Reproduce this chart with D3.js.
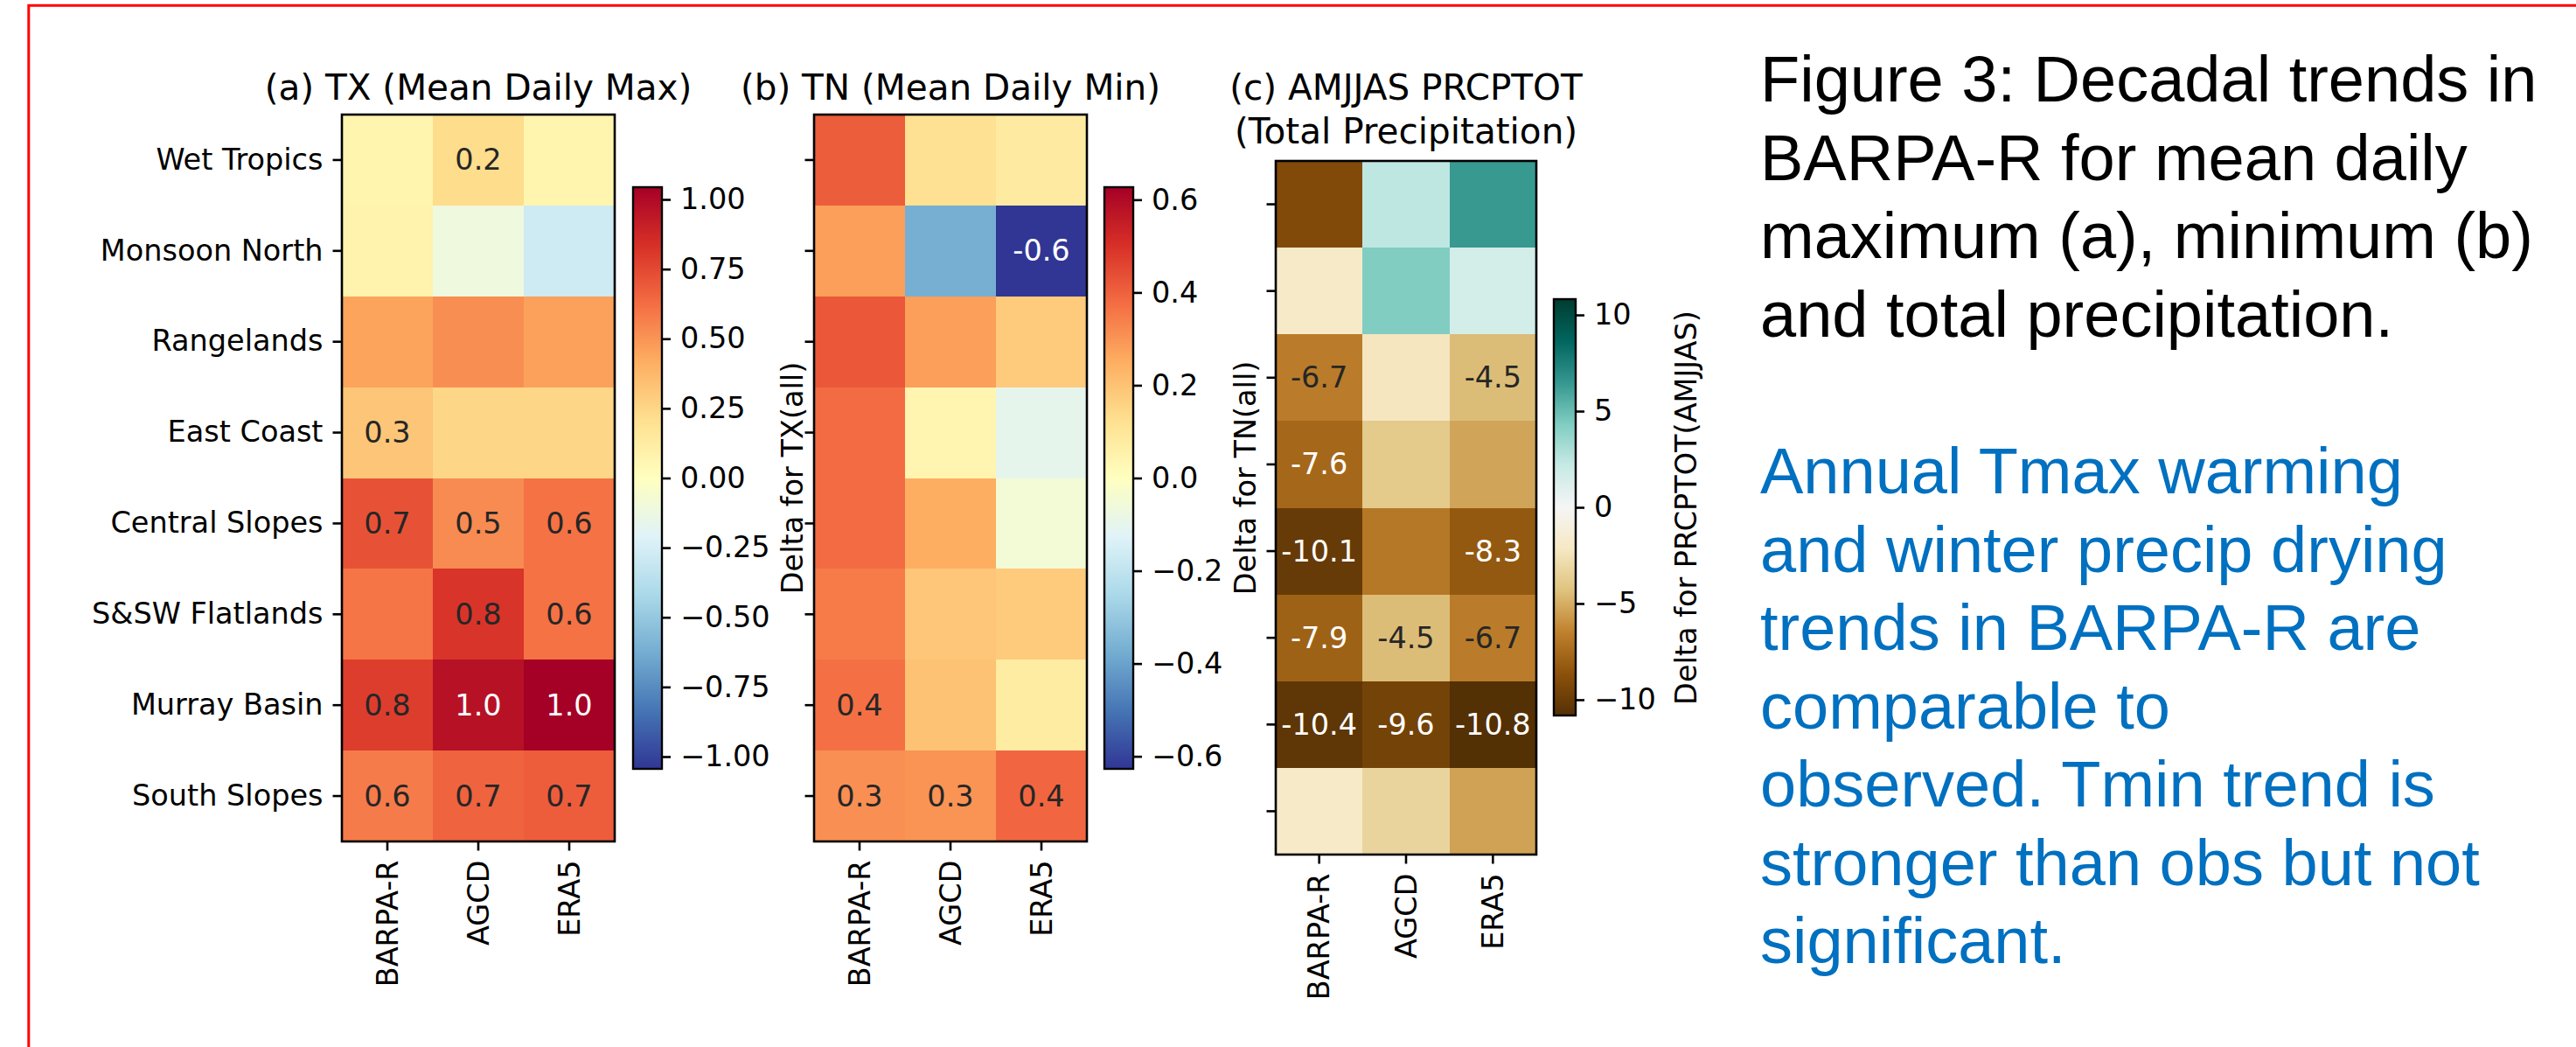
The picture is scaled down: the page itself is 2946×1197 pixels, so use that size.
<!DOCTYPE html>
<html>
<head>
<meta charset="utf-8">
<script src="https://cdn.jsdelivr.net/npm/d3@7"></script>
<style>
html, body { margin: 0; padding: 0; background: #fff; }
svg { display: block; }
</style>
</head>
<body>
<svg id="chart" width="2946" height="1197"></svg>
<script>
// --- data ---
const regions = ['Wet Tropics', 'Monsoon North', 'Rangelands', 'East Coast', 'Central Slopes', 'S&SW Flatlands', 'Murray Basin', 'South Slopes']
const datasets = ['BARPA-R', 'AGCD', 'ERA5']

// rows = regions, cols = datasets
const txTrend = [
    [0.07, 0.22, 0.07],
    [0.08, -0.11, -0.28],
    [0.45, 0.52, 0.46],
    [0.32, 0.25, 0.25],
    [0.72, 0.53, 0.61],
    [0.60, 0.82, 0.61],
    [0.79, 0.97, 1.044],
    [0.58, 0.66, 0.68]
]
// 1 = value printed in the cell
const txSig = [[0, 1, 0], [0, 0, 0], [0, 0, 0], [1, 0, 0], [1, 1, 1], [0, 1, 1], [1, 1, 1], [1, 1, 1]]

const tnTrend = [
    [0.41, 0.12, 0.08],
    [0.28, -0.37, -0.627],
    [0.42, 0.28, 0.18],
    [0.38, 0.04, -0.10],
    [0.38, 0.25, -0.05],
    [0.35, 0.19, 0.18],
    [0.37, 0.20, 0.075],
    [0.31, 0.30, 0.39]
]
const tnSig = [[0, 0, 0], [0, 0, 1], [0, 0, 0], [0, 0, 0], [0, 0, 0], [0, 0, 0], [1, 0, 0], [1, 1, 1]]

const prTrend = [
    [-9.1, 2.4, 6.4],
    [-1.9, 4.3, 1.6],
    [-6.7, -2.3, -4.5],
    [-7.6, -3.9, -5.3],
    [-10.1, -6.9, -8.3],
    [-7.9, -4.5, -6.7],
    [-10.4, -9.6, -10.82],
    [-1.9, -3.3, -5.4]
]
const prSig = [[0, 0, 0], [0, 0, 0], [1, 0, 1], [1, 0, 0], [1, 0, 1], [1, 1, 1], [1, 1, 1], [0, 0, 0]]

const txTicks = [-1, -0.75, -0.5, -0.25, 0, 0.25, 0.5, 0.75, 1]
const tnTicks = [-0.6, -0.4, -0.2, 0, 0.2, 0.4, 0.6]
const prTicks = [-10, -5, 0, 5, 10]

const titles = [['(a) TX (Mean Daily Max)'], ['(b) TN (Mean Daily Min)'], ['(c) AMJJAS PRCPTOT', '(Total Precipitation)']]
const cbarLabels = ['Delta for TX(all)', 'Delta for TN(all)', 'Delta for PRCPTOT(AMJJAS)']

const captionLines = ['Figure 3: Decadal trends in', 'BARPA-R for mean daily', 'maximum (a), minimum (b)', 'and total precipitation.']
const noteLines = ['Annual Tmax warming', 'and winter precip drying', 'trends in BARPA-R are', 'comparable to', 'observed. Tmin trend is', 'stronger than obs but not', 'significant.']

// matplotlib colormaps (11 anchors each)
const rdylbuR = ['#313695', '#4575b4', '#74add1', '#abd9e9', '#e0f3f8', '#ffffbf', '#fee090', '#fdae61', '#f46d43', '#d73027', '#a50026']
const brbg = ['#543005', '#8c510a', '#bf812d', '#dfc27d', '#f6e8c3', '#f5f5f5', '#c7eae5', '#80cdc1', '#35978f', '#01665e', '#003c30']

// --- layout ---
const font = 'DejaVu Sans'
const fs = 33.5, titleFs = 40.5
const panels = [
    {values: txTrend, sig: txSig, ticks: txTicks, fmt: d3.format('.2f'), cmap: rdylbuR, rowLabels: true,
     x0: 391, y0: 131, w: 312, h: 831, cbX: 724, cbW: 33, cbTop: 214, cbBot: 879, cbLabelX: 906, titleY: 114, white: 0.85},
    {values: tnTrend, sig: tnSig, ticks: tnTicks, fmt: d3.format('.1f'), cmap: rdylbuR, rowLabels: false,
     x0: 931, y0: 131, w: 312, h: 831, cbX: 1263, cbW: 33, cbTop: 214, cbBot: 879, cbLabelX: 1424, titleY: 114, white: 0.85},
    {values: prTrend, sig: prSig, ticks: prTicks, fmt: d3.format('d'), cmap: brbg, rowLabels: false,
     x0: 1459, y0: 184, w: 298, h: 793, cbX: 1777, cbW: 25, cbTop: 342, cbBot: 818, cbLabelX: 1928, titleY: 114, white: 0.66}
]

const svg = d3.select('#chart')
const defs = svg.append('defs')

// red frame, only top and left edges are inside the picture
svg.append('path')
    .attr('d', 'M32.8,1197 V6.2 H2946')
    .attr('fill', 'none')
    .attr('stroke', '#ff0000')
    .attr('stroke-width', 3)

const styleAxis = g => {
    g.select('.domain').remove()
    g.selectAll('line').attr('stroke', '#000').attr('stroke-width', 2.6)
    g.selectAll('text').attr('font-family', font).attr('font-size', fs).attr('fill', '#000')
}

panels.forEach((p, pi) => {
    const vmax = d3.max(p.values.flat(), v => Math.abs(v))
    const stops = d3.range(p.cmap.length).map(i => -vmax + 2 * vmax * i / (p.cmap.length - 1))
    const color = d3.scaleLinear().domain(stops).range(p.cmap).interpolate(d3.interpolateRgb)

    const x = d3.scaleBand().domain(datasets).range([p.x0, p.x0 + p.w])
    const y = d3.scaleBand().domain(regions).range([p.y0, p.y0 + p.h])

    const g = svg.append('g')

    const cells = regions.flatMap((r, i) => datasets.map((d, j) => ({r, d, v: p.values[i][j], s: p.sig[i][j]})))

    g.selectAll('rect.cell')
        .data(cells)
        .enter().append('rect')
        .attr('class', 'cell')
        .attr('x', c => x(c.d))
        .attr('y', c => y(c.r))
        .attr('width', x.bandwidth() + 0.5)
        .attr('height', y.bandwidth() + 0.5)
        .attr('fill', c => color(c.v))
        .attr('shape-rendering', 'crispEdges')

    g.selectAll('text.annot')
        .data(cells.filter(c => c.s))
        .enter().append('text')
        .attr('class', 'annot')
        .attr('x', c => x(c.d) + x.bandwidth() / 2)
        .attr('y', c => y(c.r) + y.bandwidth() / 2)
        .attr('text-anchor', 'middle')
        .attr('dominant-baseline', 'central')
        .attr('font-family', font)
        .attr('font-size', fs)
        .attr('fill', c => Math.abs(c.v) / vmax > p.white ? '#ffffff' : '#262626')
        .text(c => c.v.toFixed(1))

    // spines
    g.append('rect')
        .attr('x', p.x0).attr('y', p.y0)
        .attr('width', p.w).attr('height', p.h)
        .attr('fill', 'none')
        .attr('stroke', '#000')
        .attr('stroke-width', 2.6)

    g.append('g')
        .attr('transform', `translate(${p.x0},0)`)
        .call(d3.axisLeft(y).tickSize(10.5).tickPadding(11).tickFormat(d => p.rowLabels ? d : ''))
        .call(styleAxis)

    g.append('g')
        .attr('transform', `translate(0,${p.y0 + p.h})`)
        .call(d3.axisBottom(x).tickSize(10.5).tickPadding(11))
        .call(styleAxis)
        .selectAll('text')
            .attr('transform', 'rotate(-90)')
            .attr('text-anchor', 'end')
            .attr('x', -21.5)
            .attr('y', 0)
            .attr('dy', '0.35em')

    // title
    g.append('text')
        .attr('x', p.x0 + p.w / 2)
        .attr('y', p.titleY)
        .attr('text-anchor', 'middle')
        .attr('font-family', font)
        .attr('font-size', titleFs)
        .selectAll('tspan')
        .data(titles[pi])
        .enter().append('tspan')
            .attr('x', p.x0 + p.w / 2)
            .attr('dy', (d, i) => i === 0 ? 0 : 50)
            .text(d => d)

    // colourbar
    const gradId = `grad${pi}`
    defs.append('linearGradient')
        .attr('id', gradId)
        .attr('x1', 0).attr('y1', 1).attr('x2', 0).attr('y2', 0)
        .selectAll('stop')
        .data(p.cmap)
        .enter().append('stop')
            .attr('offset', (d, i) => i / (p.cmap.length - 1))
            .attr('stop-color', d => d)

    g.append('rect')
        .attr('x', p.cbX).attr('y', p.cbTop)
        .attr('width', p.cbW).attr('height', p.cbBot - p.cbTop)
        .attr('fill', `url(#${gradId})`)
        .attr('stroke', '#000')
        .attr('stroke-width', 2.4)

    const cb = d3.scaleLinear().domain([-vmax, vmax]).range([p.cbBot, p.cbTop])
    g.append('g')
        .attr('transform', `translate(${p.cbX + p.cbW},0)`)
        .call(d3.axisRight(cb).tickValues(p.ticks).tickSize(10).tickPadding(11).tickFormat(p.fmt))
        .call(styleAxis)

    g.append('text')
        .attr('transform', `translate(${p.cbLabelX},${(p.y0 + p.h / 2)}) rotate(-90)`)
        .attr('text-anchor', 'middle')
        .attr('dominant-baseline', 'central')
        .attr('font-family', font)
        .attr('font-size', fs)
        .text(cbarLabels[pi])
})

// caption on the right
const textX = 2013
svg.append('g')
    .selectAll('text')
    .data(captionLines)
    .enter().append('text')
        .attr('x', textX)
        .attr('y', (d, i) => 116 + i * 89.7)
        .attr('font-family', 'Liberation Sans, Arial, sans-serif')
        .attr('font-size', 74)
        .attr('fill', '#000')
        .text(d => d)

svg.append('g')
    .selectAll('text')
    .data(noteLines)
    .enter().append('text')
        .attr('x', textX)
        .attr('y', (d, i) => 564 + i * 89.5)
        .attr('font-family', 'Liberation Sans, Arial, sans-serif')
        .attr('font-size', 74)
        .attr('fill', '#0070c0')
        .text(d => d)
</script>
</body>
</html>
